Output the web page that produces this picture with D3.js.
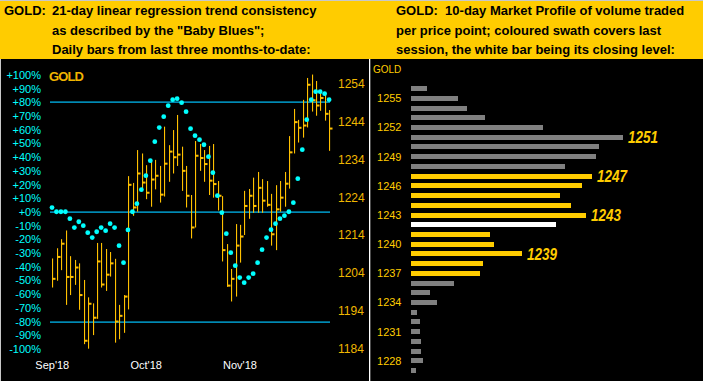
<!DOCTYPE html>
<html>
<head>
<meta charset="UTF-8">
<script src="https://cdn.jsdelivr.net/npm/d3@7"></script>
<style>
body { margin:0; background:#000; }
svg { display:block; font-family:"Liberation Sans", Arial, sans-serif; }
text { white-space:pre; }
</style>
</head>
<body>
<script>

var width = 703;
var height = 381;

// left panel: daily bars, Sep'18 .. Dec'18
var highs = [1207.8,1210.5,1212.9,1215.2,1208.4,1207.4,1206.5,1202.1,1197.5,1195.9,
             1211.9,1211.9,1210.3,1209.5,1207.7,1195.5,1198.1,1229.6,1227.8,1236.5,
             1235.6,1232.5,1233.4,1233.9,1232.3,1242.7,1237.8,1241.8,1245.8,1237.4,
             1232.3,1224.6,1238.9,1238.1,1236.5,1237.6,1238.1,1228.3,1224.3,1211.6,
             1205.0,1216.9,1216.7,1225.7,1226.2,1229.2,1230.7,1228.8,1228.3,1224.9,
             1227.2,1228.3,1230.7,1240.2,1247.4,1244.5,1249.8,1255.6,1256.5,1254.8,
             1252.4,1251.5,1247.1];
var lows = [1200.1,1201.9,1204.7,1195.5,1198.1,1200.8,1194.2,1185.1,1183.9,1187.5,
            1191.8,1200.1,1199.2,1203.0,1185.5,1186.4,1188.1,1194.3,1219.1,1220.2,
            1226.4,1223.5,1221.5,1226.1,1222.6,1224.2,1228.1,1230.3,1232.3,1225.7,
            1221.3,1213.1,1216.0,1231.0,1228.1,1224.6,1223.9,1220.5,1207.0,1200.3,
            1196.4,1197.7,1206.7,1214.0,1218.3,1219.9,1219.9,1219.9,1221.5,1211.2,
            1210.0,1220.2,1221.5,1226.3,1235.6,1238.5,1239.8,1242.5,1246.7,1245.6,
            1246.9,1244.3,1236.3];
var closes = [1202.4,1208.2,1211.7,1202.9,1202.9,1205.4,1198.1,1186.0,1195.8,1192.1,
              1207.0,1200.9,1203.5,1206.5,1191.1,1192.6,1197.7,1227.3,1221.3,1230.3,
              1227.9,1225.2,1228.7,1229.7,1224.7,1232.9,1236.1,1234.6,1235.3,1231.0,
              1224.4,1216.0,1235.0,1234.4,1232.8,1228.4,1227.5,1224.4,1210.0,1200.6,
              1202.4,1211.2,1213.6,1221.7,1224.4,1221.7,1226.5,1223.1,1222.0,1214.2,
              1220.8,1223.9,1227.6,1235.9,1243.9,1242.4,1243.0,1253.8,1249.7,1248.3,
              1250.3,1246.1,1242.2];
// "Baby Blues" (trend consistency, %)
var blues = [3.2,0.2,0.2,0.2,-4.9,-11.4,-7.1,-10.0,-15.1,-18.7,
             -14.4,-11.4,-13.6,-8.5,-11.4,-24.6,-37.0,-13.1,0.2,6.1,
             16.3,26.5,37.5,51.3,61.6,69.6,77.6,82.0,82.7,79.8,
             73.2,60.8,55.7,52.8,49.1,40.4,28.7,11.9,-0.5,-15.8,
             -29.7,-39.2,-47.9,-51.6,-47.9,-45.0,-37.0,-27.5,-18.7,-12.9,
             -8.5,-4.9,-2.7,0.2,6.8,24.3,45.5,67.4,82.0,87.8,
             87.8,86.4,82.0];
var months = ["Sep'18", "Oct'18", "Nov'18"];
var monthStart = [0, 21, 42];
var pctTicks = d3.range(-100, 101, 10);
var pctLines = [80, 0, -80];
var priceTicks = [1184, 1194, 1204, 1214, 1224, 1234, 1244, 1254];

// right panel: 10-day market profile
var mpPrices = d3.range(1256, 1226, -1);
var mpVolume = [16,47,56,74,132,212,188,185,154,181,
                171,149,160,175,145,79,83,111,72,69,
                43,19,26,6,9,9,10,10,12,5];
var mpTicks = [1255, 1252, 1249, 1246, 1243, 1240, 1237, 1234, 1231, 1228];
var mpPeaks = [1251, 1247, 1243, 1239];
var swathLow = 1237, swathHigh = 1247, closeLevel = 1242;

var gold = "#ffcc00";
var barcol = "#ffc000";
var cyan = "#00ffff";
var linecol = "#00c4ff";

var svg = d3.select("body")
    .append("svg")
    .attr("width", width)
    .attr("height", height);

svg.append("rect").attr("width", width).attr("height", height).attr("fill", "#000");
svg.append("rect").attr("width", width).attr("height", 1).attr("fill", "#c8c8c8");
svg.append("rect").attr("y", 1).attr("width", width).attr("height", 58).attr("fill", gold);
svg.append("rect").attr("x", 0).attr("y", 59).attr("width", 1).attr("height", height - 59).attr("fill", "#c8c8c8");

// header texts
var head = svg.append("g")
    .attr("font-size", 13)
    .attr("font-weight", "bold")
    .attr("fill", "#000");
head.append("text").attr("x", 4).attr("y", 15).text("GOLD:");
var leftLines = ["21-day linear regression trend consistency",
                 "as described by the \"Baby Blues\";",
                 "Daily bars from last three months-to-date:"];
var rightLines = ["GOLD:  10-day Market Profile of volume traded",
                  "per price point; coloured swath covers last",
                  "session, the white bar being its closing level:"];
leftLines.forEach(function(t, i) {
    head.append("text").attr("x", 52).attr("y", 15 + i * 19.7).text(t);
});
rightLines.forEach(function(t, i) {
    head.append("text").attr("x", 396).attr("y", 15 + i * 19.7).text(t);
});

// ---- left panel ----
var x = d3.scaleLinear().domain([0, highs.length - 1]).range([52.3, 329.4]);
var yp = d3.scaleLinear().domain([1184, 1254]).range([348.3, 84]);
var yc = d3.scaleLinear().domain([-100, 100]).range([349, 75]);

var left = svg.append("g");

left.selectAll(".pct")
    .data(pctTicks)
    .enter().append("text")
    .attr("x", 41)
    .attr("y", function(d) { return yc(d); })
    .attr("dy", "0.36em")
    .attr("text-anchor", "end")
    .attr("font-size", 11)
    .attr("fill", cyan)
    .text(function(d) { return (d >= 0 ? "+" : "") + d + "%"; });

left.selectAll(".price")
    .data(priceTicks)
    .enter().append("text")
    .attr("x", 338)
    .attr("y", function(d) { return yp(d); })
    .attr("dy", "0.36em")
    .attr("font-size", 12)
    .attr("fill", "#f0b800")
    .text(function(d) { return d; });

left.selectAll(".month")
    .data(months)
    .enter().append("text")
    .attr("x", function(d, i) { return x(monthStart[i]); })
    .attr("y", 369)
    .attr("text-anchor", "middle")
    .attr("font-size", 11)
    .attr("fill", "#fff")
    .text(function(d) { return d; });

left.append("text")
    .attr("x", 49).attr("y", 80.5)
    .attr("font-size", 13)
    .attr("font-weight", "bold")
    .attr("textLength", 35)
    .attr("fill", "#f0b400")
    .text("GOLD");

left.selectAll(".hline")
    .data(pctLines)
    .enter().append("rect")
    .attr("x", 50)
    .attr("y", function(d) { return Math.round(yc(d)) - 0.5; })
    .attr("width", 280)
    .attr("height", 1.2)
    .attr("fill", linecol);

var bars = left.selectAll(".bar")
    .data(highs)
    .enter().append("g");

bars.append("rect")
    .attr("x", function(d, i) { return Math.round(x(i)); })
    .attr("y", function(d) { return yp(d); })
    .attr("width", 1.1)
    .attr("height", function(d, i) { return yp(lows[i]) - yp(d); })
    .attr("fill", barcol);

bars.append("rect")
    .attr("x", function(d, i) { return Math.round(x(i)); })
    .attr("y", function(d, i) { return yp(closes[i]) - 1; })
    .attr("width", 3.5)
    .attr("height", 2)
    .attr("fill", barcol);

left.selectAll(".blue")
    .data(blues)
    .enter().append("circle")
    .attr("cx", function(d, i) { return x(i) - 0.3; })
    .attr("cy", function(d) { return yc(d); })
    .attr("r", 2.4)
    .attr("fill", cyan);

// ---- right panel: market profile ----
var right = svg.append("g");

right.append("rect")
    .attr("x", 369).attr("y", 59)
    .attr("width", 1.3).attr("height", height - 59)
    .attr("fill", "#fff");

right.append("text")
    .attr("x", 373).attr("y", 73)
    .attr("font-size", 10)
    .attr("fill", gold)
    .text("GOLD");

var my = d3.scaleLinear().domain([1255, 1228]).range([98.3, 360.7]);
var mx = d3.scaleLinear().domain([0, d3.max(mpVolume)]).range([0, 212]);

right.selectAll(".mptick")
    .data(mpTicks)
    .enter().append("text")
    .attr("x", 401.5)
    .attr("y", function(d) { return my(d); })
    .attr("dy", "0.36em")
    .attr("text-anchor", "end")
    .attr("font-size", 11)
    .attr("fill", gold)
    .text(function(d) { return d; });

right.selectAll(".mpbar")
    .data(mpPrices)
    .enter().append("rect")
    .attr("x", 411)
    .attr("y", function(d) { return Math.round(my(d) - 2.4); })
    .attr("width", function(d, i) { return mx(mpVolume[i]); })
    .attr("height", 5)
    .attr("fill", function(d) {
        if (d == closeLevel) return "#fff";
        if (d >= swathLow && d <= swathHigh) return gold;
        return "#808080";
    });

right.selectAll(".peak")
    .data(mpPeaks)
    .enter().append("text")
    .attr("x", function(d) { return 411 + mx(mpVolume[mpPrices.indexOf(d)]) + 5; })
    .attr("y", function(d) { return my(d); })
    .attr("dy", "0.36em")
    .attr("font-size", 16)
    .attr("font-weight", "bold")
    .attr("font-style", "italic")
    .attr("textLength", 30)
    .attr("lengthAdjust", "spacingAndGlyphs")
    .attr("fill", gold)
    .text(function(d) { return d; });

</script>
</body>
</html>
